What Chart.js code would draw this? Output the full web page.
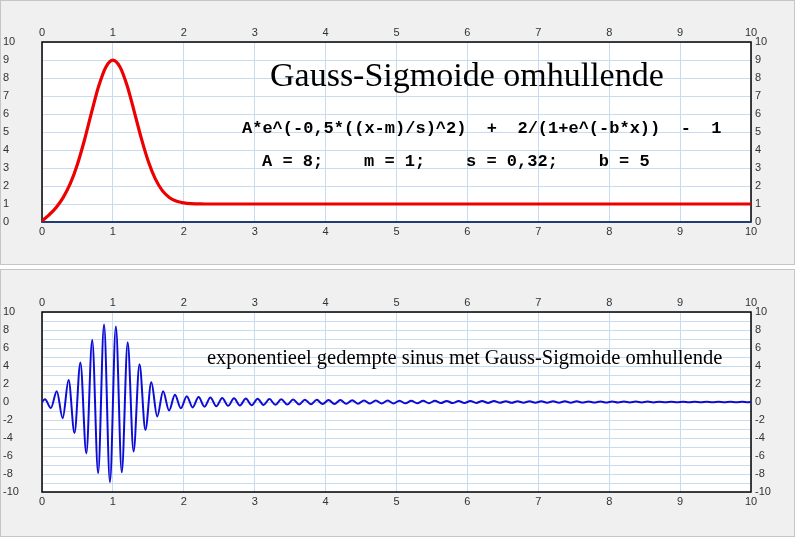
<!DOCTYPE html>
<html>
<head>
<meta charset="utf-8">
<script src="https://cdn.jsdelivr.net/npm/chart.js@4.4.1/dist/chart.umd.min.js"></script>
<style>
  html, body { margin: 0; padding: 0; background: #fff; }
  body { width: 800px; height: 538px; position: relative; overflow: hidden; }
  .panel { position: absolute; left: 0; width: 793px; background: #f0f0f0; border: 1px solid #c6c6c6; }
  #p1 { top: 0; height: 263px; }
  #p2 { top: 269px; height: 266px; }
  canvas { position: absolute; left: 0; }
  #topChart { top: 0; }
  #bottomChart { top: 270px; }
</style>
</head>
<body>
<div class="panel" id="p1"></div>
<div class="panel" id="p2"></div>
<canvas id="topChart" width="800" height="268"></canvas>
<canvas id="bottomChart" width="800" height="268"></canvas>
<script>
// envelope (top chart), read every 0.1 up to 2.3, then flat to 10
const envX = [0, 0.1, 0.2, 0.3, 0.4, 0.5, 0.6, 0.7, 0.8, 0.9, 1.0, 1.1, 1.2,
              1.3, 1.4, 1.5, 1.6, 1.7, 1.8, 1.9, 2.0, 2.1, 2.2, 2.3, 10];
const envY = [0.06, 0.40, 0.81, 1.37, 2.14, 3.21, 4.57, 6.10, 7.55, 8.60, 8.99, 8.61, 7.58,
              6.15, 4.66, 3.36, 2.38, 1.73, 1.35, 1.15, 1.06, 1.02, 1.01, 1.00, 1.00];

// damped sine (bottom chart): start, one value per extremum (6 periods per unit), end
const waveFirst = 1 / 24;
const waveStep = 1 / 12;
const waveY = [0,
  0.3, -0.67, 1.2, -1.8, 2.45, -3.45, 4.4, -5.7, 6.9, -7.9,
  8.6, -8.9, 8.4, -7.8, 6.6, -5.5, 4.2, -3.1, 2.2, -1.6,
  1.2, -0.95, 0.8, -0.7, 0.65, -0.6, 0.55, -0.52, 0.5, -0.47,
  0.45, -0.43, 0.41, -0.39, 0.38, -0.36, 0.35, -0.33, 0.32, -0.31,
  0.3, -0.29, 0.28, -0.27, 0.26, -0.25, 0.24, -0.23, 0.22, -0.22,
  0.21, -0.2, 0.2, -0.19, 0.18, -0.18, 0.17, -0.17, 0.16, -0.16,
  0.15, -0.15, 0.14, -0.14, 0.13, -0.13, 0.13, -0.12, 0.12, -0.12,
  0.11, -0.11, 0.11, -0.1, 0.1, -0.1, 0.1, -0.09, 0.09, -0.09,
  0.09, -0.08, 0.08, -0.08, 0.08, -0.08, 0.07, -0.07, 0.07, -0.07,
  0.07, -0.06, 0.06, -0.06, 0.06, -0.06, 0.06, -0.05, 0.05, -0.05,
  0.05, -0.05, 0.05, -0.05, 0.04, -0.04, 0.04, -0.04, 0.04, -0.04,
  0.04, -0.04, 0.04, -0.03, 0.03, -0.03, 0.03, -0.03, 0.03, -0.03,
  0];
const waveX = [0];
for (let k = 0; k < waveY.length - 2; k++) waveX.push(waveFirst + k * waveStep);
waveX.push(10);

const topTexts = [
  { text: "Gauss-Sigmoide omhullende", x: 270, y: 86, font: '34px "Liberation Serif"' },
  { text: "A*e^(-0,5*((x-m)/s)^2)  +  2/(1+e^(-b*x))  -  1", x: 242, y: 133, font: 'bold 17px "Liberation Mono"' },
  { text: "A = 8;    m = 1;    s = 0,32;    b = 5", x: 262, y: 166, font: 'bold 17px "Liberation Mono"' }
];
const bottomTexts = [
  { text: "exponentieel gedempte sinus met Gauss-Sigmoide omhullende", x: 207, y: 94, font: '20.5px "Liberation Serif"' }
];

const gridBlue = "#c9dcef";
const tickFont = { family: '"Liberation Sans", Arial', size: 11 };
const tickColor = "#333";

function framePlugin(baseColor) {
  return {
    id: "frame",
    beforeDraw(chart) {
      const a = chart.chartArea, ctx = chart.ctx;
      ctx.save();
      ctx.fillStyle = "#fff";
      ctx.fillRect(a.left, a.top, a.right - a.left, a.bottom - a.top);
      ctx.restore();
    },
    beforeDatasetsDraw(chart) {
      const a = chart.chartArea, ctx = chart.ctx;
      ctx.save();
      ctx.strokeStyle = "#000";
      ctx.lineWidth = 1.5;
      ctx.strokeRect(a.left, a.top, a.right - a.left, a.bottom - a.top);
      if (baseColor) {
        ctx.strokeStyle = baseColor;
        ctx.lineWidth = 2;
        ctx.beginPath();
        ctx.moveTo(a.left, a.bottom);
        ctx.lineTo(a.right, a.bottom);
        ctx.stroke();
      }
      ctx.restore();
    }
  };
}

function notesPlugin(items) {
  return {
    id: "notes",
    afterDatasetsDraw(chart) {
      const ctx = chart.ctx;
      ctx.save();
      ctx.fillStyle = "#000";
      ctx.textAlign = "left";
      ctx.textBaseline = "alphabetic";
      items.forEach(n => {
        ctx.font = n.font;
        ctx.fillText(n.text, n.x, n.y);
      });
      ctx.restore();
    }
  };
}

function makeScales(yMin, yMax, yLabel) {
  const tick = { font: tickFont, color: tickColor, autoSkip: false, maxRotation: 0 };
  return {
    x: {
      type: "linear", position: "bottom", min: 0, max: 10,
      ticks: { ...tick, stepSize: 1, padding: 3 },
      grid: { color: gridBlue, drawTicks: false },
      border: { display: false },
      afterFit: s => { s.height = 46; }
    },
    xTop: {
      type: "linear", position: "top", min: 0, max: 10,
      ticks: { ...tick, stepSize: 1, padding: 2 },
      grid: { display: false, drawTicks: false },
      border: { display: false },
      afterFit: s => { s.height = 42; }
    },
    y: {
      type: "linear", position: "left", min: yMin, max: yMax,
      ticks: { ...tick, stepSize: 1, crossAlign: "far", callback: yLabel },
      grid: { color: gridBlue, drawTicks: false },
      border: { display: false },
      afterFit: s => { s.width = 39; }
    },
    yRight: {
      type: "linear", position: "right", min: yMin, max: yMax,
      ticks: { ...tick, stepSize: 1, padding: 4, callback: yLabel },
      grid: { display: false, drawTicks: false },
      border: { display: false },
      afterFit: s => { s.width = 49; }
    }
  };
}

const baseOptions = {
  responsive: false,
  animation: false,
  events: [],
  layout: { padding: { left: 3, right: 0, top: 0, bottom: 0 } },
  plugins: { legend: { display: false }, tooltip: { enabled: false } }
};

new Chart(document.getElementById("topChart"), {
  type: "line",
  data: {
    datasets: [{
      data: envX.map((x, i) => ({ x: x, y: envY[i] })),
      borderColor: "#ee0000",
      borderWidth: 3.2,
      pointRadius: 0,
      cubicInterpolationMode: "monotone",
      fill: false
    }]
  },
  options: { ...baseOptions, scales: makeScales(0, 10, v => v) },
  plugins: [framePlugin("#1f3c78"), notesPlugin(topTexts)]
});

new Chart(document.getElementById("bottomChart"), {
  type: "line",
  data: {
    datasets: [{
      data: waveX.map((x, i) => ({ x: x, y: waveY[i] })),
      borderColor: "#0c0cd6",
      borderWidth: 2,
      pointRadius: 0,
      cubicInterpolationMode: "monotone",
      fill: false
    }]
  },
  options: { ...baseOptions, scales: makeScales(-10, 10, v => (v % 2 === 0 ? v : "")) },
  plugins: [framePlugin(null), notesPlugin(bottomTexts)]
});
</script>
</body>
</html>
